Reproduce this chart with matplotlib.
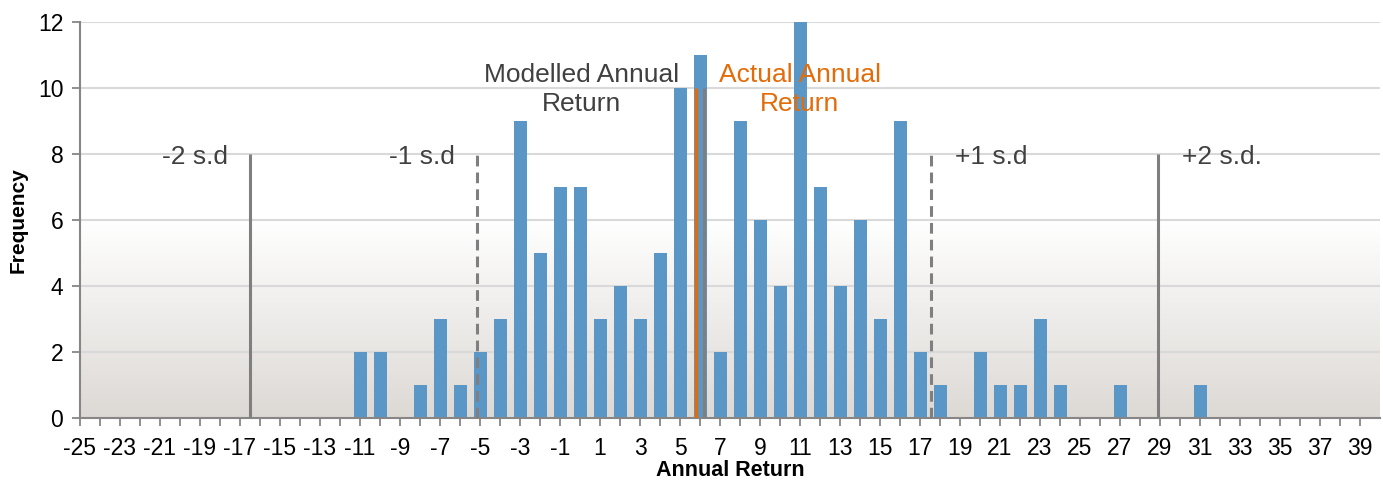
import numpy as np
import matplotlib
matplotlib.use("Agg")
import matplotlib.pyplot as plt

plt.rcParams["font.family"] = ["Liberation Sans", "DejaVu Sans"]

# Histogram of annual returns (category = return %, value = frequency)
RETURNS = list(range(-25, 40))
FREQ = {
    -11: 2, -10: 2, -8: 1, -7: 3, -6: 1, -5: 2, -4: 3, -3: 9, -2: 5,
    -1: 7, 0: 7, 1: 3, 2: 4, 3: 3, 4: 5, 5: 10, 6: 11, 7: 2, 8: 9,
    9: 6, 10: 4, 11: 12, 12: 7, 13: 4, 14: 6, 15: 3, 16: 9, 17: 2,
    18: 1, 20: 2, 21: 1, 22: 1, 23: 3, 24: 1, 27: 1, 31: 1,
}
COUNTS = [FREQ.get(r, 0) for r in RETURNS]

MODELLED_MEAN = 6.2
ACTUAL_RETURN = 5.8
STD_DEV = 11.35
SD_LABELS = ["-2 s.d", "-1 s.d", "+1 s.d", "+2 s.d."]
SD_MULT = [-2, -1, 1, 2]

BLUE = "#5b97c6"
GREY = "#7f7f7f"
ORANGE = "#e36c09"
TEXT = "#404040"

fig = plt.figure(figsize=(13.83, 4.8), dpi=100)
ax = fig.add_axes([80 / 1383, 62 / 480, 1300 / 1383, 396 / 480])
ax.set_xlim(-25, 40)
ax.set_ylim(0, 12)

# background gradient: white above 6, fading to warm grey at 0
grad = np.ones((200, 1, 3))
ys = np.linspace(12, 0, 200)
bottom = np.array([0.866, 0.851, 0.835])
t = np.clip((6 - ys) / 6, 0, 1)[:, None]
grad[:, 0, :] = (1 - t) * 1.0 + t * bottom
ax.imshow(grad, extent=(-25, 40, 0, 12), aspect="auto", zorder=0)

for y in range(2, 13, 2):
    ax.axhline(y, color="#d9d9d9", lw=1.5, zorder=1)

ax.bar(RETURNS, COUNTS, width=0.65, color=BLUE, zorder=2)

# standard deviation markers
for mult, lab in zip(SD_MULT, SD_LABELS):
    x = MODELLED_MEAN + mult * STD_DEV
    ls = (0, (3.5, 2)) if abs(mult) == 1 else "-"
    ax.plot([x, x], [0, 8], color=GREY, lw=2.2, ls=ls, zorder=3,
            solid_capstyle="butt")
    if mult < 0:
        ax.text(x - 1.1, 7.9, lab, ha="right", va="center",
                fontsize=19, color=TEXT, zorder=4)
    else:
        ax.text(x + 1.2, 7.9, lab, ha="left", va="center",
                fontsize=19, color=TEXT, zorder=4)

ax.plot([ACTUAL_RETURN, ACTUAL_RETURN], [0, 10], color=ORANGE, lw=2.4,
        zorder=3, solid_capstyle="butt")
ax.plot([MODELLED_MEAN, MODELLED_MEAN], [0, 10], color=GREY, lw=2.4,
        zorder=3, solid_capstyle="butt")

ax.text(0.1, 9.95, "Modelled Annual\nReturn", ha="center", va="center",
        fontsize=19, color=TEXT, linespacing=1.25, zorder=4)
ax.text(11.0, 9.95, "Actual Annual\nReturn", ha="center", va="center",
        fontsize=19, color=ORANGE, linespacing=1.25, zorder=4)

# axes styling
for side in ("top", "right"):
    ax.spines[side].set_visible(False)
for side in ("left", "bottom"):
    ax.spines[side].set_color("#868686")
    ax.spines[side].set_linewidth(1.5)

ax.set_xticks(RETURNS)
ax.set_xticklabels([str(r) if (r + 25) % 2 == 0 else "" for r in RETURNS])
ax.set_yticks(range(0, 13, 2))
ax.tick_params(axis="x", direction="out", length=6, width=1.3,
               color="#868686", labelsize=16.5, pad=8)
ax.tick_params(axis="y", direction="out", length=6, width=1.3,
               color="#868686", labelsize=16.5, pad=6)

ax.set_xlabel("Annual Return", fontsize=15.5, fontweight="bold", labelpad=0)
ax.set_ylabel("Frequency", fontsize=15, fontweight="bold", labelpad=7)

fig.savefig("out.png", dpi=100, facecolor="white")
